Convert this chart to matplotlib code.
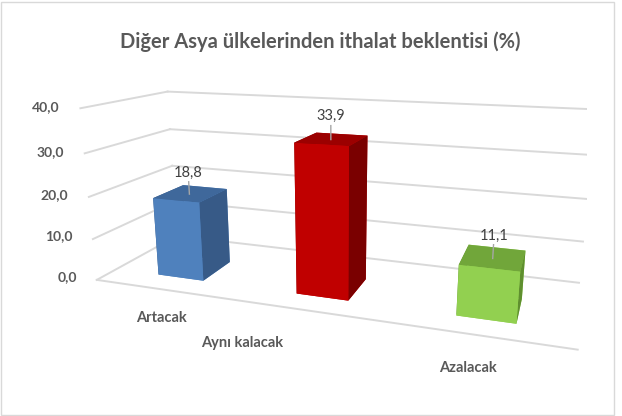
import matplotlib
matplotlib.use("Agg")
import matplotlib.pyplot as plt
import numpy as np
from matplotlib.patches import Rectangle

categories = ["Artacak", "Aynı kalacak", "Azalacak"]
values = [18.8, 33.9, 11.1]
value_labels = ["18,8", "33,9", "11,1"]
z_ticks = [0, 10, 20, 30, 40]
z_tick_labels = ["0,0", "10,0", "20,0", "30,0", "40,0"]
title = "Diğer Asya ülkelerinden ithalat beklentisi (%)"

# face colours: bottom, top, front(-y), back(+y), left(-x), right(+x)
front = ["#4F81BD", "#C00000", "#92D050"]
top = ["#3F689B", "#9B0000", "#71A63A"]
side = ["#375A87", "#7A0000", "#5F8F2F"]

TXT = "#595959"
GRID = "#D9D9D9"
plt.rcParams["font.family"] = ["Lato", "DejaVu Sans"]

fig = plt.figure(figsize=(6.22, 4.16), dpi=100)
ax = fig.add_axes([-0.06, -0.11, 1.18, 1.235], projection="3d")
ax.set_proj_type("persp", focal_length=0.25)
ax.view_init(elev=15, azim=-71)
ax.computed_zorder = False

x0, x1 = -0.5, 2.5
y_front, y_back = 0.0, 1.0
ax.set_xlim(x0, x1)
ax.set_ylim(y_front, y_back)
ax.set_zlim(0, 40)
ax.set_box_aspect((3.0, 0.98, 1.13))
ax.set_axis_off()

# walls: gridlines on the left side wall and the back wall
for z, lab in zip(z_ticks, z_tick_labels):
    ax.plot([x0, x0], [y_front, y_back], [z, z], color=GRID, lw=1.4, zorder=1)
    ax.plot([x0, x1], [y_back, y_back], [z, z], color=GRID, lw=1.4, zorder=1)
    ax.text(x0 - 0.16, y_front, z, lab, color=TXT, fontsize=10,
            fontweight="bold", ha="right", va="center")
# front edge of the floor
ax.plot([x0, x1], [y_front, y_front], [0, 0], color=GRID, lw=1.4, zorder=1)

xs = np.arange(len(values))
dx, dy = 0.34, 0.38
y0 = 0.22
for i, v in enumerate(values):
    cols = [front[i], top[i], front[i], front[i], side[i], side[i]]
    bar = ax.bar3d(xs[i] - dx / 2, y0, 0, dx, dy, v, color=cols, shade=False,
                   edgecolor="none")
    bar.set_zorder(3)
    ym = y0 + dy * 0.45
    ax.plot([xs[i], xs[i]], [ym, ym], [v, v + 3.0], color="#A6A6A6", lw=1,
            zorder=5)
    ax.text(xs[i], ym, v + 3.5, value_labels[i], color="#404040", fontsize=10.5,
            ha="center", va="bottom", zorder=6)

label_dx = [0.05, -0.4, -0.05]
label_z = [-3.5, -6.5, -4.0]
for i, c in enumerate(categories):
    ax.text(xs[i] + label_dx[i], -0.1, label_z[i], c, color=TXT, fontsize=10.5,
            fontweight="bold", ha="center", va="top")

fig.text(0.515, 0.9, title, color=TXT, fontsize=14.5, fontweight="bold",
         ha="center", va="center")
fig.patches.append(Rectangle((0.002, 0.002), 0.985, 0.994,
                             transform=fig.transFigure, fill=False,
                             edgecolor=GRID, lw=1))

fig.savefig("out.png", dpi=100)
